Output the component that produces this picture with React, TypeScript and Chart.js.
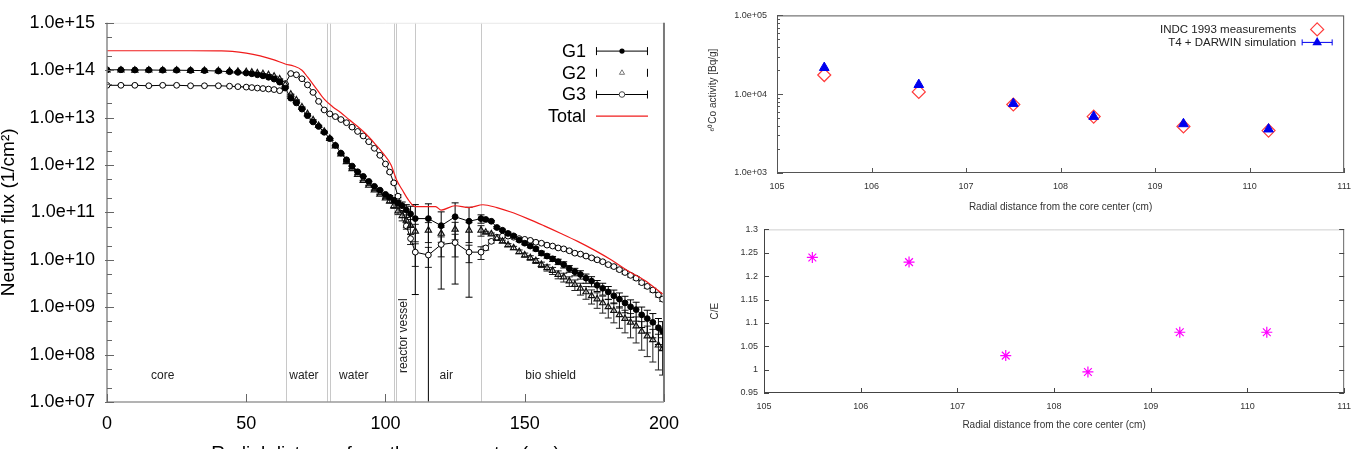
import React, { useEffect, useRef } from 'react';
import { Chart, registerables } from 'chart.js';

Chart.register(...registerables);

const FONT = '"Liberation Sans", Arial, Helvetica, sans-serif';

// ---------- Neutron flux traverse (three energy groups + total) ----------
const radius = [
  0, 5, 10, 15, 20, 25, 30, 35, 40,
  44, 47, 50, 52, 54, 56, 58, 60, 62, 64,
  66, 68, 70, 72, 74, 76, 78, 80, 82, 84, 86, 88, 90, 92, 94, 96, 98, 100,
  101.5, 103, 104.5, 106, 107.5, 109,
  110.7, 115.4, 120, 125, 130, 134.3,
  136, 138, 140, 142, 144, 146, 148, 150, 152, 154, 156, 158, 160, 162, 164, 166,
  168, 170, 172, 174, 176, 178, 180, 182, 184, 186, 188, 190, 192, 194, 196, 198,
  199.5,
];

const g1Flux = [
  1.02e14, 1.02e14, 1.01e14, 1.01e14, 1.0e14, 1.0e14, 9.9e13, 9.8e13, 9.6e13,
  9.3e13, 9.0e13, 8.7e13, 8.4e13, 8.0e13, 7.6e13, 7.1e13, 6.5e13, 5.6e13, 4.2e13,
  2.57e13, 2.04e13, 1.51e13, 1.1e13, 8.1e12, 6.5e12, 4.9e12, 3.6e12, 2.6e12, 1.78e12, 1.29e12, 9.5e11, 7.2e11, 5.75e11, 4.5e11, 3.55e11, 2.95e11, 2.4e11,
  2.1e11, 1.82e11, 1.58e11, 1.38e11, 1.12e11, 9.3e10,
  7.4e10, 7.4e10, 5.25e10, 8.1e10, 6.5e10, 7.4e10,
  7.1e10, 6.5e10, 4.8e10, 4.2e10, 3.6e10, 3.2e10, 2.6e10, 2.24e10, 1.95e10, 1.7e10, 1.38e10, 1.2e10, 1.05e10, 9.1e9, 7.9e9, 6.5e9,
  5.6e9, 4.9e9, 4.1e9, 3.55e9, 2.9e9, 2.5e9, 2.1e9, 1.74e9, 1.48e9, 1.23e9, 1.02e9, 8.9e8, 6.9e8, 5.75e8, 4.8e8, 3.7e8,
  3.1e8,
];

const g2Flux = [
  1.0e14, 1.0e14, 9.9e13, 1.0e14, 9.9e13, 1.0e14, 9.8e13, 9.8e13, 9.7e13,
  9.6e13, 9.4e13, 9.2e13, 9.0e13, 8.7e13, 8.4e13, 8.0e13, 7.4e13, 6.5e13, 4.9e13,
  3.1e13, 2.34e13, 1.66e13, 1.2e13, 8.9e12, 6.8e12, 5.1e12, 3.6e12, 2.5e12, 1.7e12, 1.17e12, 8.3e11, 6.3e11, 4.7e11, 3.7e11, 2.95e11, 2.4e11, 2.0e11,
  1.74e11, 1.38e11, 1.07e11, 8.5e10, 6.8e10, 5.25e10,
  4.0e10, 4.2e10, 3.6e10, 4.4e10, 4.2e10, 4.2e10,
  3.8e10, 3.5e10, 2.8e10, 2.45e10, 2.05e10, 1.78e10, 1.48e10, 1.26e10, 1.1e10, 9.5e9, 7.9e9, 6.8e9, 5.9e9, 4.9e9, 4.3e9, 3.55e9,
  3.0e9, 2.5e9, 2.1e9, 1.74e9, 1.48e9, 1.23e9, 1.02e9, 8.5e8, 6.9e8, 5.75e8, 4.8e8, 4.0e8, 3.1e8, 2.45e8, 2.05e8, 1.58e8,
  1.32e8,
];

const g3Flux = [
  4.8e13, 4.8e13, 4.8e13, 4.7e13, 4.8e13, 4.8e13, 4.7e13, 4.7e13, 4.7e13,
  4.6e13, 4.5e13, 4.4e13, 4.3e13, 4.2e13, 4.1e13, 4.0e13, 3.9e13, 3.7e13, 5.2e13,
  8.5e13, 8.0e13, 6.6e13, 4.9e13, 3.4e13, 2.2e13, 1.45e13, 1.2e13, 1.05e13, 9.1e12, 7.8e12, 6.3e12, 5.1e12, 4.1e12, 3.1e12, 2.25e12, 1.6e12, 1.05e12,
  7.1e11, 4.2e11, 2.2e11, 1.25e11, 5.2e10, 2.8e10,
  1.45e10, 1.26e10, 2.1e10, 2.3e10, 1.45e10, 1.45e10,
  1.78e10, 2.45e10, 3.0e10, 3.16e10, 3.16e10, 3.0e10, 2.8e10, 2.7e10, 2.57e10, 2.34e10, 2.24e10, 2.04e10, 1.95e10, 1.78e10, 1.7e10, 1.55e10,
  1.38e10, 1.32e10, 1.2e10, 1.1e10, 1.0e10, 9.1e9, 7.9e9, 7.2e9, 6.2e9, 5.4e9, 4.7e9, 4.1e9, 3.3e9, 2.75e9, 2.3e9, 1.82e9,
  1.48e9,
];

// relative statistical uncertainty of each tally
const g1RelErr = [
  0.01, 0.01, 0.01, 0.01, 0.01, 0.01, 0.01, 0.01, 0.01,
  0.01, 0.01, 0.01, 0.01, 0.01, 0.01, 0.01, 0.01, 0.01, 0.01,
  0.015, 0.015, 0.015, 0.015, 0.015, 0.015, 0.015, 0.015, 0.015, 0.015, 0.015, 0.015, 0.015, 0.015, 0.015, 0.015, 0.015, 0.015,
  0.08, 0.1, 0.14, 0.2, 0.3, 0.45,
  0.975, 1.05, 0.954, 0.962, 0.975, 0.2,
  0.04, 0.04, 0.05, 0.05, 0.06, 0.06, 0.07, 0.07, 0.08, 0.09, 0.1, 0.1, 0.12, 0.13, 0.15, 0.16,
  0.18, 0.2, 0.22, 0.24, 0.26, 0.28, 0.3, 0.32, 0.35, 0.38, 0.4, 0.43, 0.46, 0.5, 0.53, 0.56,
  0.6,
];

const g2RelErr = [
  0.01, 0.01, 0.01, 0.01, 0.01, 0.01, 0.01, 0.01, 0.01,
  0.01, 0.01, 0.01, 0.01, 0.01, 0.01, 0.01, 0.01, 0.01, 0.01,
  0.015, 0.015, 0.015, 0.015, 0.015, 0.015, 0.015, 0.015, 0.015, 0.015, 0.015, 0.015, 0.015, 0.015, 0.015, 0.015, 0.015, 0.015,
  0.1, 0.12, 0.16, 0.22, 0.3, 0.35,
  0.4, 0.45, 0.35, 0.4, 0.45, 0.25,
  0.05, 0.05, 0.06, 0.06, 0.07, 0.08, 0.09, 0.1, 0.11, 0.12, 0.13, 0.15, 0.17, 0.19, 0.21, 0.23,
  0.25, 0.28, 0.3, 0.33, 0.36, 0.39, 0.42, 0.45, 0.48, 0.5, 0.53, 0.56, 0.6, 0.63, 0.66, 0.7,
  0.72,
];

const g3RelErr = [
  0.01, 0.01, 0.01, 0.01, 0.01, 0.01, 0.01, 0.01, 0.01,
  0.01, 0.01, 0.01, 0.01, 0.01, 0.01, 0.01, 0.01, 0.01, 0.01,
  0.015, 0.015, 0.015, 0.015, 0.015, 0.015, 0.015, 0.015, 0.015, 0.015, 0.015, 0.015, 0.015, 0.015, 0.015, 0.015, 0.015, 0.015,
  0.04, 0.05, 0.07, 0.1, 0.15, 0.25,
  0.5, 0.45, 0.45, 0.5, 0.4, 0.3,
  0.1, 0.08, 0.06, 0.05, 0.05, 0.04, 0.04, 0.04, 0.04, 0.04, 0.04, 0.04, 0.04, 0.05, 0.05, 0.05,
  0.05, 0.05, 0.05, 0.06, 0.06, 0.06, 0.06, 0.07, 0.07, 0.07, 0.08, 0.08, 0.08, 0.09, 0.09, 0.1,
  0.1,
];

const totalRadius = [
  0, 10, 20, 30, 40, 45, 50, 55, 60, 64, 67, 70, 72, 75, 78, 81, 84, 87, 90, 93, 96, 99,
  102, 104, 106, 108.5, 110.7, 118, 120, 125, 130, 135, 140, 145, 151, 157, 163, 169, 175,
  181, 187, 193, 199.5,
];

const totalFlux = [
  2.57e14, 2.57e14, 2.57e14, 2.57e14, 2.55e14, 2.5e14, 2.3e14, 2.0e14, 1.65e14, 1.35e14,
  1.23e14, 1.0e14, 7.2e13, 4.2e13, 2.45e13, 1.7e13, 1.26e13, 9.0e12, 6.5e12, 4.5e12,
  2.9e12, 1.8e12, 1.0e12, 4.8e11, 3.0e11, 1.74e11, 1.32e11, 1.32e11, 1.12e11, 1.38e11,
  1.26e11, 1.45e11, 1.26e11, 1.02e11, 7.4e10, 5.2e10, 3.6e10, 2.45e10, 1.6e10, 1.0e10,
  5.9e9, 3.7e9, 1.9e9,
];

const seriesNames = ['G1', 'G2', 'G3', 'Total'];

const fluxTicks = [1e7, 1e8, 1e9, 1e10, 1e11, 1e12, 1e13, 1e14, 1e15];
const fluxTickLabels = [
  '1.0e+07', '1.0e+08', '1.0e+09', '1.0e+10', '1.0e+11', '1.0e+12', '1.0e+13', '1.0e+14', '1.0e+15',
];
const radialTicks = [0, 50, 100, 150, 200];

// material boundaries (cm) and the zone names
const regionBounds = [64.3, 79, 80, 102.9, 103.6, 110.7, 134.3];
const regionNames = ['core', 'water', 'water', 'reactor vessel', 'air', 'bio shield'];
const regionCenters = [20, 70.7, 88.6, 106.4, 121.8, 159.3];

// ---------- 60Co activation of the vessel samples ----------
const sampleRadius = [105.5, 106.5, 107.5, 108.35, 109.3, 110.2];
const measuredActivity = [1.75e4, 1.07e4, 7.4e3, 5.2e3, 3.9e3, 3.45e3];
const simulatedActivity = [2.17e4, 1.32e4, 7.6e3, 5.2e3, 4.2e3, 3.6e3];
const activityNames = ['INDC 1993 measurements', 'T4 + DARWIN simulation'];
const activityTicks = [1e3, 1e4, 1e5];
const activityTickLabels = ['1.0e+03', '1.0e+04', '1.0e+05'];
const sampleAxisTicks = [105, 106, 107, 108, 109, 110, 111];

const ceRatio = [1.24, 1.23, 1.03, 0.995, 1.08, 1.08];
const ceTicks = [0.95, 1, 1.05, 1.1, 1.15, 1.2, 1.25, 1.3];
const ceTickLabels = ['0.95', '1', '1.05', '1.1', '1.15', '1.2', '1.25', '1.3'];

// ---------- helpers ----------
function seg(ctx: CanvasRenderingContext2D, x1: number, y1: number, x2: number, y2: number) {
  ctx.beginPath();
  ctx.moveTo(x1, y1);
  ctx.lineTo(x2, y2);
  ctx.stroke();
}

function fixedTicks(values: number[]) {
  return (scale: any) => {
    scale.ticks = values.map((value) => ({ value }));
  };
}

function points(xs: number[], ys: number[]) {
  return xs.map((x, i) => ({ x, y: ys[i] }));
}

function drawErrorBars(ctx: CanvasRenderingContext2D, chart: any, xs: number[], values: number[], errors: number[], cap: number) {
  const a = chart.chartArea;
  const { x, y } = chart.scales;
  ctx.beginPath();
  xs.forEach((xv, i) => {
    const px = x.getPixelForValue(xv);
    const hi = values[i] * (1 + errors[i]);
    const lo = values[i] * (1 - errors[i]);
    const pyHi = y.getPixelForValue(hi);
    const pyLo = lo > 0 ? y.getPixelForValue(lo) : a.bottom + 1000;
    ctx.moveTo(px, Math.max(pyHi, a.top));
    ctx.lineTo(px, Math.min(pyLo, a.bottom));
    if (pyHi >= a.top) {
      ctx.moveTo(px - cap, pyHi);
      ctx.lineTo(px + cap, pyHi);
    }
    if (pyLo <= a.bottom) {
      ctx.moveTo(px - cap, pyLo);
      ctx.lineTo(px + cap, pyLo);
    }
  });
  ctx.stroke();
}

const baseOptions = {
  animation: false,
  responsive: false,
  maintainAspectRatio: false,
  events: [],
  plugins: { legend: { display: false }, tooltip: { enabled: false } },
};

// ---------- flux chart decorations ----------
const fluxDecor = {
  id: 'fluxDecor',
  beforeDatasetsDraw(chart: any) {
    const { ctx, chartArea: a } = chart;
    const { x, y } = chart.scales;
    ctx.save();
    ctx.beginPath();
    ctx.rect(a.left, a.top, a.right - a.left, a.bottom - a.top);
    ctx.clip();

    ctx.strokeStyle = '#c8c8c8';
    ctx.lineWidth = 1;
    regionBounds.forEach((b) => {
      const px = Math.round(x.getPixelForValue(b)) + 0.5;
      seg(ctx, px, a.top, px, a.bottom);
    });

    ctx.fillStyle = '#222';
    ctx.font = `12px ${FONT}`;
    ctx.textAlign = 'center';
    ctx.textBaseline = 'middle';
    regionNames.forEach((name, i) => {
      const px = x.getPixelForValue(regionCenters[i]);
      if (name === 'reactor vessel') {
        ctx.save();
        ctx.translate(px, y.getPixelForValue(2.5e8));
        ctx.rotate(-Math.PI / 2);
        ctx.fillText(name, 0, 0);
        ctx.restore();
      } else {
        ctx.fillText(name, px, y.getPixelForValue(3.6e7));
      }
    });

    ctx.lineWidth = 1;
    ctx.strokeStyle = '#222';
    drawErrorBars(ctx, chart, radius, g3Flux, g3RelErr, 3.5);
    drawErrorBars(ctx, chart, radius, g2Flux, g2RelErr, 3.5);
    ctx.strokeStyle = '#000';
    drawErrorBars(ctx, chart, radius, g1Flux, g1RelErr, 3.5);
    ctx.restore();
  },
  afterDraw(chart: any) {
    const { ctx, chartArea: a } = chart;
    const { x, y } = chart.scales;
    ctx.save();

    // frame
    ctx.lineWidth = 1;
    ctx.strokeStyle = '#e8e8e8';
    seg(ctx, a.left, a.top + 0.5, a.right, a.top + 0.5);
    ctx.strokeStyle = '#7a7a7a';
    ctx.lineWidth = 2;
    seg(ctx, a.right, a.top, a.right, a.bottom);
    ctx.strokeStyle = '#8a8a8a';
    ctx.lineWidth = 1.5;
    seg(ctx, a.left, a.top, a.left, a.bottom + 0.75);
    ctx.strokeStyle = '#9a9a9a';
    seg(ctx, a.left, a.bottom, a.right, a.bottom);

    // tick marks
    ctx.strokeStyle = '#666';
    ctx.lineWidth = 1;
    fluxTicks.forEach((v, i) => {
      const py = Math.round(y.getPixelForValue(v)) + 0.5;
      seg(ctx, a.left - 2, py, a.left + 7, py);
      if (i < fluxTicks.length - 1) {
        [2, 5].forEach((m) => {
          const pm = Math.round(y.getPixelForValue(v * m)) + 0.5;
          seg(ctx, a.left, pm, a.left + 5, pm);
        });
      }
    });
    radialTicks.forEach((v) => {
      const px = Math.round(x.getPixelForValue(v)) + 0.5;
      seg(ctx, px, a.bottom, px, a.bottom - 8);
    });

    // axis titles
    ctx.fillStyle = '#000';
    ctx.font = `19px ${FONT}`;
    ctx.textAlign = 'center';
    ctx.textBaseline = 'alphabetic';
    ctx.fillText('Radial distance from the core center (cm)', (a.left + a.right) / 2, 459);
    ctx.save();
    ctx.translate(14, (a.top + a.bottom) / 2);
    ctx.rotate(-Math.PI / 2);
    ctx.fillText('Neutron flux (1/cm\u00B2)', 0, 0);
    ctx.restore();

    // key
    const x1 = a.right - 68;
    const x2 = a.right - 16;
    const xm = (x1 + x2) / 2;
    const tx = a.right - 78;
    const rowY = (i: number) => a.top + 28.3 + i * 21.7;
    ctx.font = `18px ${FONT}`;
    ctx.textAlign = 'right';
    ctx.textBaseline = 'middle';
    seriesNames.forEach((name, i) => ctx.fillText(name, tx, rowY(i) + 1));

    ctx.strokeStyle = '#000';
    ctx.lineWidth = 1;
    [0, 1, 2].forEach((i) => {
      const ry = rowY(i);
      if (i !== 1) seg(ctx, x1, ry, x2, ry);
      seg(ctx, x1 + 0.5, ry - 4, x1 + 0.5, ry + 4);
      seg(ctx, x2 - 0.5, ry - 4, x2 - 0.5, ry + 4);
    });
    ctx.fillStyle = '#000';
    ctx.beginPath();
    ctx.arc(xm, rowY(0), 2.6, 0, Math.PI * 2);
    ctx.fill();
    ctx.strokeStyle = '#777';
    ctx.beginPath();
    ctx.moveTo(xm, rowY(1) - 3);
    ctx.lineTo(xm + 2.6, rowY(1) + 1.5);
    ctx.lineTo(xm - 2.6, rowY(1) + 1.5);
    ctx.closePath();
    ctx.stroke();
    ctx.fillStyle = '#fff';
    ctx.strokeStyle = '#444';
    ctx.beginPath();
    ctx.arc(xm, rowY(2), 2.8, 0, Math.PI * 2);
    ctx.fill();
    ctx.stroke();
    ctx.strokeStyle = '#f01c1c';
    ctx.lineWidth = 1.2;
    seg(ctx, x1, rowY(3), x2, rowY(3));

    ctx.restore();
  },
};

// ---------- activity chart decorations ----------
const activityDecor = {
  id: 'activityDecor',
  afterDraw(chart: any) {
    const { ctx, chartArea: a } = chart;
    const { x, y } = chart.scales;
    ctx.save();
    ctx.strokeStyle = '#555';
    ctx.lineWidth = 1;
    ctx.strokeRect(a.left + 0.5, a.top + 0.5, a.right - a.left - 1, a.bottom - a.top - 1);

    activityTicks.forEach((v, i) => {
      const py = Math.round(y.getPixelForValue(v)) + 0.5;
      seg(ctx, a.left, py, a.left + 6, py);
      if (i < activityTicks.length - 1) {
        for (let m = 2; m <= 9; m++) {
          const pm = Math.round(y.getPixelForValue(v * m)) + 0.5;
          seg(ctx, a.left, pm, a.left + 3, pm);
        }
      }
    });
    sampleAxisTicks.forEach((v) => {
      const px = Math.round(x.getPixelForValue(v)) + 0.5;
      seg(ctx, px, a.bottom, px, a.bottom - 5);
    });

    ctx.fillStyle = '#333';
    ctx.font = `10px ${FONT}`;
    ctx.textAlign = 'center';
    ctx.textBaseline = 'middle';
    ctx.fillText('Radial distance from the core center (cm)', (a.left + a.right) / 2, 207);
    ctx.save();
    ctx.translate(23, (a.top + a.bottom) / 2 - 4);
    ctx.rotate(-Math.PI / 2);
    ctx.fillText('\u2076\u2070Co activity [Bq/g]', 0, 0);
    ctx.restore();

    // key
    const tx = a.right - 48;
    const sx = a.right - 27;
    const r0 = a.top + 14;
    const r1 = a.top + 27;
    ctx.font = `11.5px ${FONT}`;
    ctx.textAlign = 'right';
    ctx.fillStyle = '#222';
    ctx.fillText(activityNames[0], tx, r0);
    ctx.fillText(activityNames[1], tx, r1);

    ctx.strokeStyle = '#ff3b3b';
    ctx.lineWidth = 1.2;
    ctx.beginPath();
    ctx.moveTo(sx, r0 - 6.5);
    ctx.lineTo(sx + 6.5, r0);
    ctx.lineTo(sx, r0 + 6.5);
    ctx.lineTo(sx - 6.5, r0);
    ctx.closePath();
    ctx.stroke();

    ctx.strokeStyle = '#0000ee';
    ctx.lineWidth = 1;
    seg(ctx, sx - 15, r1, sx + 15, r1);
    seg(ctx, sx - 15, r1 - 3, sx - 15, r1 + 3);
    seg(ctx, sx + 15, r1 - 3, sx + 15, r1 + 3);
    ctx.fillStyle = '#0000ee';
    ctx.beginPath();
    ctx.moveTo(sx, r1 - 5.5);
    ctx.lineTo(sx + 4.8, r1 + 2.8);
    ctx.lineTo(sx - 4.8, r1 + 2.8);
    ctx.closePath();
    ctx.fill();
    ctx.restore();
  },
};

// ---------- C/E chart decorations ----------
const ratioDecor = {
  id: 'ratioDecor',
  afterDraw(chart: any) {
    const { ctx, chartArea: a } = chart;
    const { x, y } = chart.scales;
    ctx.save();
    ctx.lineWidth = 1;
    ctx.strokeStyle = '#cfcfcf';
    seg(ctx, a.left, a.top + 0.5, a.right, a.top + 0.5);
    ctx.strokeStyle = '#666';
    seg(ctx, a.right - 0.5, a.top, a.right - 0.5, a.bottom);
    ctx.strokeStyle = '#444';
    seg(ctx, a.left + 0.5, a.top, a.left + 0.5, a.bottom);
    seg(ctx, a.left, a.bottom - 0.5, a.right, a.bottom - 0.5);

    ceTicks.forEach((v) => {
      const py = Math.round(y.getPixelForValue(v)) + 0.5;
      seg(ctx, a.left, py, a.left + 5, py);
      seg(ctx, a.right - 5, py, a.right, py);
    });
    sampleAxisTicks.forEach((v) => {
      const px = Math.round(x.getPixelForValue(v)) + 0.5;
      seg(ctx, px, a.bottom, px, a.bottom - 5);
    });

    ctx.fillStyle = '#333';
    ctx.font = `10px ${FONT}`;
    ctx.textAlign = 'center';
    ctx.textBaseline = 'middle';
    ctx.fillText('Radial distance from the core center (cm)', (a.left + a.right) / 2, 207);
    ctx.save();
    ctx.translate(25, (a.top + a.bottom) / 2);
    ctx.rotate(-Math.PI / 2);
    ctx.fillText('C/E', 0, 0);
    ctx.restore();
    ctx.restore();
  },
};

function smallAxis(ticks: number[], labels: string[] | null, padding: number) {
  return {
    afterBuildTicks: fixedTicks(ticks),
    grid: { display: false, drawTicks: false },
    border: { display: false },
    ticks: {
      autoSkip: false,
      maxRotation: 0,
      padding,
      color: '#333',
      font: { family: FONT, size: 9 },
      callback: (v: number, i: number) => (labels ? labels[i] : String(v)),
    },
  };
}

function useChart(makeConfig: () => any) {
  const ref = useRef<HTMLCanvasElement | null>(null);
  useEffect(() => {
    if (!ref.current) return;
    const chart = new Chart(ref.current, makeConfig());
    return () => chart.destroy();
  }, []);
  return ref;
}

function FluxChart() {
  const ref = useChart(() => ({
    type: 'scatter',
    data: {
      datasets: [
        {
          label: seriesNames[3],
          data: points(totalRadius, totalFlux),
          showLine: true,
          borderColor: '#f01c1c',
          borderWidth: 1.2,
          pointRadius: 0,
          cubicInterpolationMode: 'monotone',
        },
        {
          label: seriesNames[0],
          data: points(radius, g1Flux),
          showLine: true,
          borderColor: '#000',
          borderWidth: 1,
          pointStyle: 'circle',
          pointRadius: 2.9,
          pointBackgroundColor: '#000',
          pointBorderColor: '#000',
        },
        {
          label: seriesNames[1],
          data: points(radius, g2Flux),
          showLine: false,
          pointStyle: 'triangle',
          pointRadius: 3.6,
          pointBorderWidth: 1.2,
          pointBackgroundColor: 'rgba(0,0,0,0)',
          pointBorderColor: '#111',
        },
        {
          label: seriesNames[2],
          data: points(radius, g3Flux),
          showLine: true,
          borderColor: '#000',
          borderWidth: 1,
          pointStyle: 'circle',
          pointRadius: 2.9,
          pointBorderWidth: 1,
          pointBackgroundColor: '#fff',
          pointBorderColor: '#000',
        },
      ],
    },
    options: {
      ...baseOptions,
      layout: { padding: { top: 15, right: 24, left: 0, bottom: 0 } },
      scales: {
        x: {
          type: 'linear',
          min: 0,
          max: 200,
          afterBuildTicks: fixedTicks(radialTicks),
          afterFit: (s: any) => {
            s.height = 47;
          },
          grid: { display: false, drawTicks: false },
          border: { display: false },
          ticks: { autoSkip: false, maxRotation: 0, padding: 11, color: '#000', font: { family: FONT, size: 18 } },
        },
        y: {
          type: 'logarithmic',
          min: 1e7,
          max: 1e15,
          afterBuildTicks: fixedTicks(fluxTicks),
          afterFit: (s: any) => {
            s.width = 107;
          },
          grid: { display: false, drawTicks: false },
          border: { display: false },
          ticks: {
            autoSkip: false,
            padding: 12,
            color: '#000',
            font: { family: FONT, size: 18 },
            callback: (_v: number, i: number) => fluxTickLabels[i],
          },
        },
      },
    },
    plugins: [fluxDecor],
  }));
  return <canvas ref={ref} width={690} height={449} style={{ position: 'absolute', left: 0, top: 0, filter: 'blur(0.3px)' }} />;
}

function ActivityChart() {
  const ref = useChart(() => ({
    type: 'scatter',
    data: {
      datasets: [
        {
          label: activityNames[1],
          data: points(sampleRadius, simulatedActivity),
          pointStyle: 'triangle',
          pointRadius: 5.6,
          pointBorderWidth: 1,
          pointBackgroundColor: '#0000ee',
          pointBorderColor: '#0000ee',
        },
        {
          label: activityNames[0],
          data: points(sampleRadius, measuredActivity),
          pointStyle: 'rectRot',
          pointRadius: 6.5,
          pointBorderWidth: 1.2,
          pointBackgroundColor: 'rgba(255,255,255,0)',
          pointBorderColor: '#ff3b3b',
        },
      ],
    },
    options: {
      ...baseOptions,
      layout: { padding: { top: 6, right: 14, left: 0, bottom: 0 } },
      scales: {
        x: {
          type: 'linear',
          min: 105,
          max: 111,
          afterFit: (s: any) => {
            s.height = 45;
          },
          ...smallAxis(sampleAxisTicks, null, 8),
        },
        y: {
          type: 'logarithmic',
          min: 1e3,
          max: 1e5,
          afterFit: (s: any) => {
            s.width = 87;
          },
          ...smallAxis(activityTicks, activityTickLabels, 10),
        },
      },
    },
    plugins: [activityDecor],
  }));
  return <canvas ref={ref} width={669} height={218} style={{ position: 'absolute', left: 690, top: 0, filter: 'blur(0.45px)' }} />;
}

function RatioChart() {
  const ref = useChart(() => ({
    type: 'scatter',
    data: {
      datasets: [
        {
          label: 'C/E',
          data: points(sampleRadius, ceRatio),
          pointStyle: 'star',
          pointRadius: 5.5,
          pointBorderWidth: 1.2,
          pointBorderColor: '#ff00ff',
          pointBackgroundColor: '#ff00ff',
        },
      ],
    },
    options: {
      ...baseOptions,
      layout: { padding: { top: 7, right: 14, left: 0, bottom: 0 } },
      scales: {
        x: {
          type: 'linear',
          min: 105,
          max: 111,
          afterFit: (s: any) => {
            s.height = 56;
          },
          ...smallAxis(sampleAxisTicks, null, 8),
        },
        y: {
          type: 'linear',
          min: 0.95,
          max: 1.3,
          afterFit: (s: any) => {
            s.width = 74;
          },
          ...smallAxis(ceTicks, ceTickLabels, 6),
        },
      },
    },
    plugins: [ratioDecor],
  }));
  return <canvas ref={ref} width={669} height={231} style={{ position: 'absolute', left: 690, top: 218, filter: 'blur(0.45px)' }} />;
}

export default function App() {
  return (
    <div style={{ position: 'absolute', left: 0, top: 0, width: 1359, height: 449, background: '#fff', overflow: 'hidden' }}>
      <FluxChart />
      <ActivityChart />
      <RatioChart />
    </div>
  );
}
